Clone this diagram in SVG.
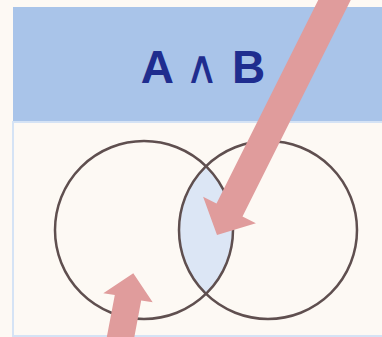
<svg xmlns="http://www.w3.org/2000/svg" width="382" height="337" viewBox="0 0 382 337">
  <style>
    .circle { fill: none; stroke: #5f4f4f; stroke-width: 2.5; }
    .arrow { fill: #e09c9c; stroke: none; }
    .title { font-family: "Liberation Sans", Arial, sans-serif; font-weight: bold; font-size: 46px; fill: #1f2d8f; }
    .op { font-weight: normal; }
  </style>
  <rect x="0" y="0" width="382" height="337" fill="#fdf9f4"/>
  <g id="header">
    <rect x="13" y="7" width="372" height="114" fill="#a9c4e9"/>
    <text class="title" x="203" y="83" text-anchor="middle">A <tspan class="op">∧</tspan> B</text>
  </g>
  <g id="panel">
    <rect x="13" y="122" width="372" height="214" fill="#fdf9f4" stroke="#d5e3f5" stroke-width="2"/>
  </g>
  <g id="lens">
    <path d="M206,166.15 A89,89 0 0 1 206,293.85 A89,89 0 0 1 206,166.15 Z" fill="#dce6f5"/>
  </g>
  <g id="circleA">
    <circle class="circle" cx="144" cy="230" r="89"/>
  </g>
  <g id="circleB">
    <circle class="circle" cx="268" cy="230" r="89"/>
  </g>
  <g id="connectors">
    <path class="arrow" d="M358.7,-15.9 L242.5,216.5 L255.9,223.2 L217,235 L203.1,196.8 L216.5,203.5 L332.7,-28.9 Z"/>
    <path class="arrow" d="M132,349.5 L141.2,300.6 L152.7,302.3 L133.3,273.3 L103.3,293.3 L114.8,295 L105.5,343.9 Z"/>
  </g>
</svg>
